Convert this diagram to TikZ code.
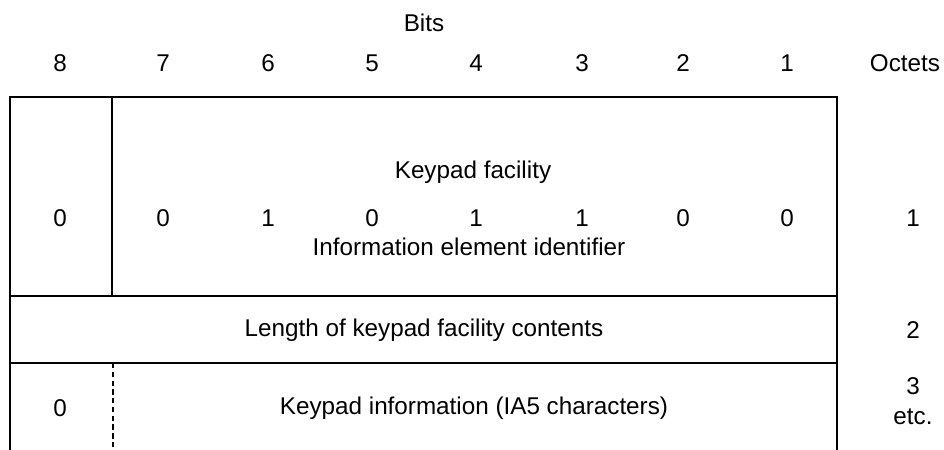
\documentclass[tikz,border=0pt]{standalone}
\usepackage{fontspec}
\setmainfont{Liberation Sans}
\begin{document}
\begin{tikzpicture}[x=0.02cm,y=-0.02cm,line width=0.8pt,every node/.style={font=\fontsize{13.8}{16}\selectfont,inner sep=1pt}]
  \useasboundingbox (0,0) rectangle (944,450);
  % corners of the octet frame
  \coordinate (tl) at (10,97);
  \coordinate (tr) at (837,97);
  \coordinate (bl) at (10,450);
  \coordinate (br) at (837,450);
  \coordinate (r1l) at (10,296);
  \coordinate (r1r) at (837,296);
  \coordinate (r2l) at (10,363);
  \coordinate (r2r) at (837,363);
  \coordinate (d1t) at (112,97);
  \coordinate (d1b) at (112,296);
  \coordinate (d3t) at (113,363);
  \coordinate (d3b) at (113,450);
  % header
  \node (bits) at (424,23) {Bits};
  \foreach \b/\x in {8/60,7/163,6/268,5/372,4/476,3/582,2/683,1/787}
    \node (h\b) at (\x,63) {\b};
  \node (octets) at (905,63) {Octets};
  % frame
  \draw (bl) -- (tl) -- (tr) -- (br);
  \draw (r1l) -- (r1r);
  \draw (r2l) -- (r2r);
  \draw (d1t) -- (d1b);
  \draw[line width=0.6pt,densely dashed] (d3t) -- (d3b);
  % octet 1
  \node (name) at (473,172) {Keypad facility};
  \foreach \b/\x/\v in {8/60/0,7/163/0,6/268/1,5/372/0,4/476/1,3/582/1,2/683/0,1/787/0}
    \node (v\b) at (\x,218) {\v};
  \node (ident) at (469,247) {Information element identifier};
  \node (o1) at (913,218) {1};
  % octet 2
  \node (len) at (424,330) {Length of keypad facility contents};
  \node (o2) at (913,330) {2};
  % octet 3
  \node (ext) at (60,408) {0};
  \node (info) at (474,408) {Keypad information (IA5 characters)};
  \node[align=center,font=\fontsize{13.8}{17}\selectfont] (o3) at (913,401) {3\\etc.};
\end{tikzpicture}
\end{document}
